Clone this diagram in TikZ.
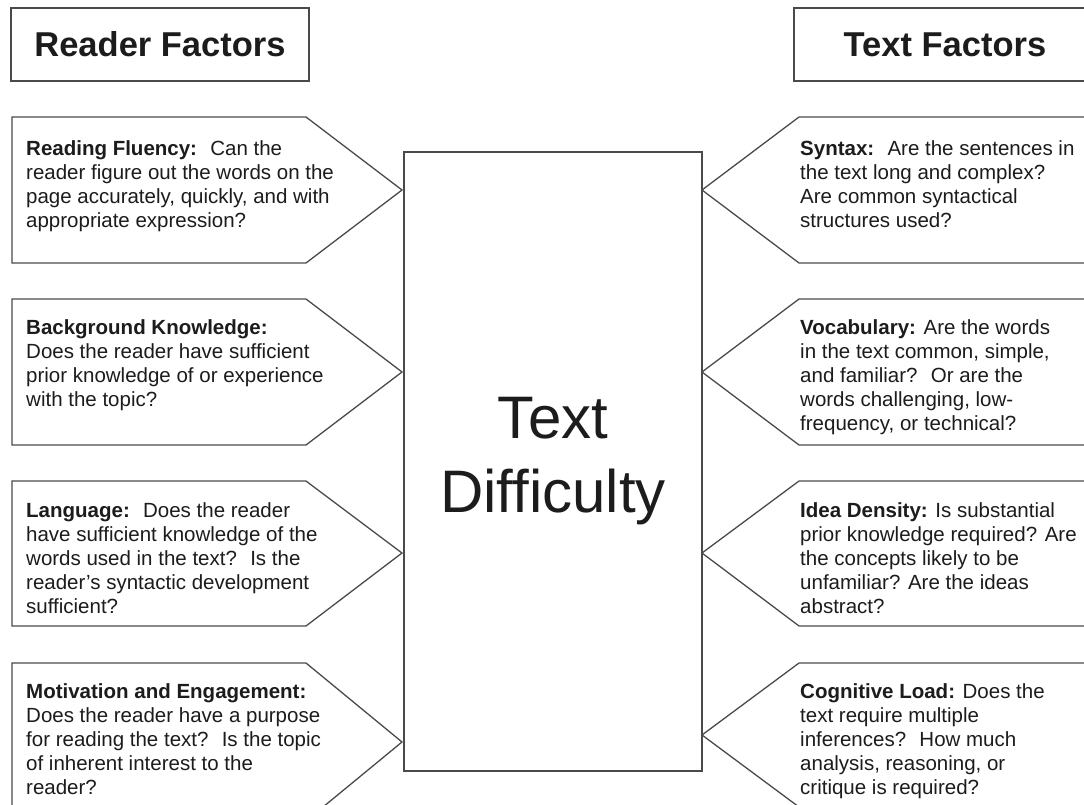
\documentclass[tikz,border=0pt]{standalone}
\usepackage{fontspec}
\setmainfont{Liberation Sans}
\definecolor{linegray}{HTML}{4A4A4A}
\definecolor{ink}{HTML}{1C1C1C}
\newcommand{\lines}[1]{\begin{tabular}[t]{@{}l@{}}#1\end{tabular}}
\begin{document}
\begin{tikzpicture}[x=1pt,y=-1pt,
  frame/.style={draw=linegray, line width=1.3pt, line join=miter},
  headbox/.style={frame, minimum height=73pt, inner sep=0pt, text=ink,
    font=\bfseries\fontsize{34.5}{40}\selectfont},
  body/.style={inner sep=0pt, text=ink, font=\fontsize{20.5}{24}\selectfont},
  big/.style={inner sep=0pt, text=ink, font=\fontsize{60}{74}\selectfont}]
\useasboundingbox (0,0) rectangle (1084,805);
\clip (0,0) rectangle (1084,805);
\fill[white] (0,0) rectangle (1084,805);

% column headings
\node[headbox, minimum width=298pt] (readerhead) at (160,44.5) {Reader Factors};
\node[headbox, minimum width=302pt] (texthead) at (945,44.5) {Text Factors};

% central box
\node[frame, minimum width=298pt, minimum height=619pt, inner sep=0pt] (core) at (553,461.5) {};
\node[big, anchor=base] (coretext) at (553,438) {\begin{tabular}[t]{@{}c@{}}Text\\Difficulty\end{tabular}};

% reader-side arrows (pointing right)
\draw[frame] (12,117) -- (306,117) -- (402,190) -- (306,263) -- (12,263) -- cycle;
\draw[frame] (12,299) -- (306,299) -- (402,372) -- (306,445) -- (12,445) -- cycle;
\draw[frame] (12,481) -- (306,481) -- (402,553) -- (306,626) -- (12,626) -- cycle;
\draw[frame] (12,663) -- (306,663) -- (402,742) -- (306,821) -- (12,821) -- cycle;

% text-side arrows (pointing left, open to the right)
\draw[frame] (1100,117) -- (799,117) -- (702,190) -- (799,263) -- (1100,263);
\draw[frame] (1100,299) -- (799,299) -- (702,372) -- (799,445) -- (1100,445);
\draw[frame] (1100,481) -- (799,481) -- (702,553) -- (799,626) -- (1100,626);
\draw[frame] (1100,663) -- (799,663) -- (702,735) -- (799,807) -- (1100,807);

% reader factors
\node[body, anchor=base west] (fluency) at (26,156) {\lines{%
\textbf{Reading Fluency:}~ Can the\\
reader figure out the words on the\\
page accurately, quickly, and with\\
appropriate expression?}};
\node[body, anchor=base west] (background) at (26,334) {\lines{%
\textbf{Background Knowledge:}\\
Does the reader have sufficient\\
prior knowledge of or experience\\
with the topic?}};
\node[body, anchor=base west] (language) at (26,517) {\lines{%
\textbf{Language:}~ Does the reader\\
have sufficient knowledge of the\\
words used in the text?~ Is the\\
reader’s syntactic development\\
sufficient?}};
\node[body, anchor=base west] (motivation) at (26,698) {\lines{%
\textbf{Motivation and Engagement:}\\
Does the reader have a purpose\\
for reading the text?~ Is the topic\\
of inherent interest to the\\
reader?}};

% text factors
\node[body, anchor=base west] (syntax) at (800,156) {\lines{%
\textbf{Syntax:}~ Are the sentences in\\
the text long and complex?\\
Are common syntactical\\
structures used?}};
\node[body, anchor=base west] (vocabulary) at (800,334) {\lines{%
\textbf{Vocabulary:} Are the words\\
in the text common, simple,\\
and familiar?~ Or are the\\
words challenging, low-\\
frequency, or technical?}};
\node[body, anchor=base west] (density) at (800,517) {\lines{%
\textbf{Idea Density:} Is substantial\\
prior knowledge required? Are\\
the concepts likely to be\\
unfamiliar? Are the ideas\\
abstract?}};
\node[body, anchor=base west] (load) at (800,698) {\lines{%
\textbf{Cognitive Load:} Does the\\
text require multiple\\
inferences?~ How much\\
analysis, reasoning, or\\
critique is required?}};
\end{tikzpicture}
\end{document}
